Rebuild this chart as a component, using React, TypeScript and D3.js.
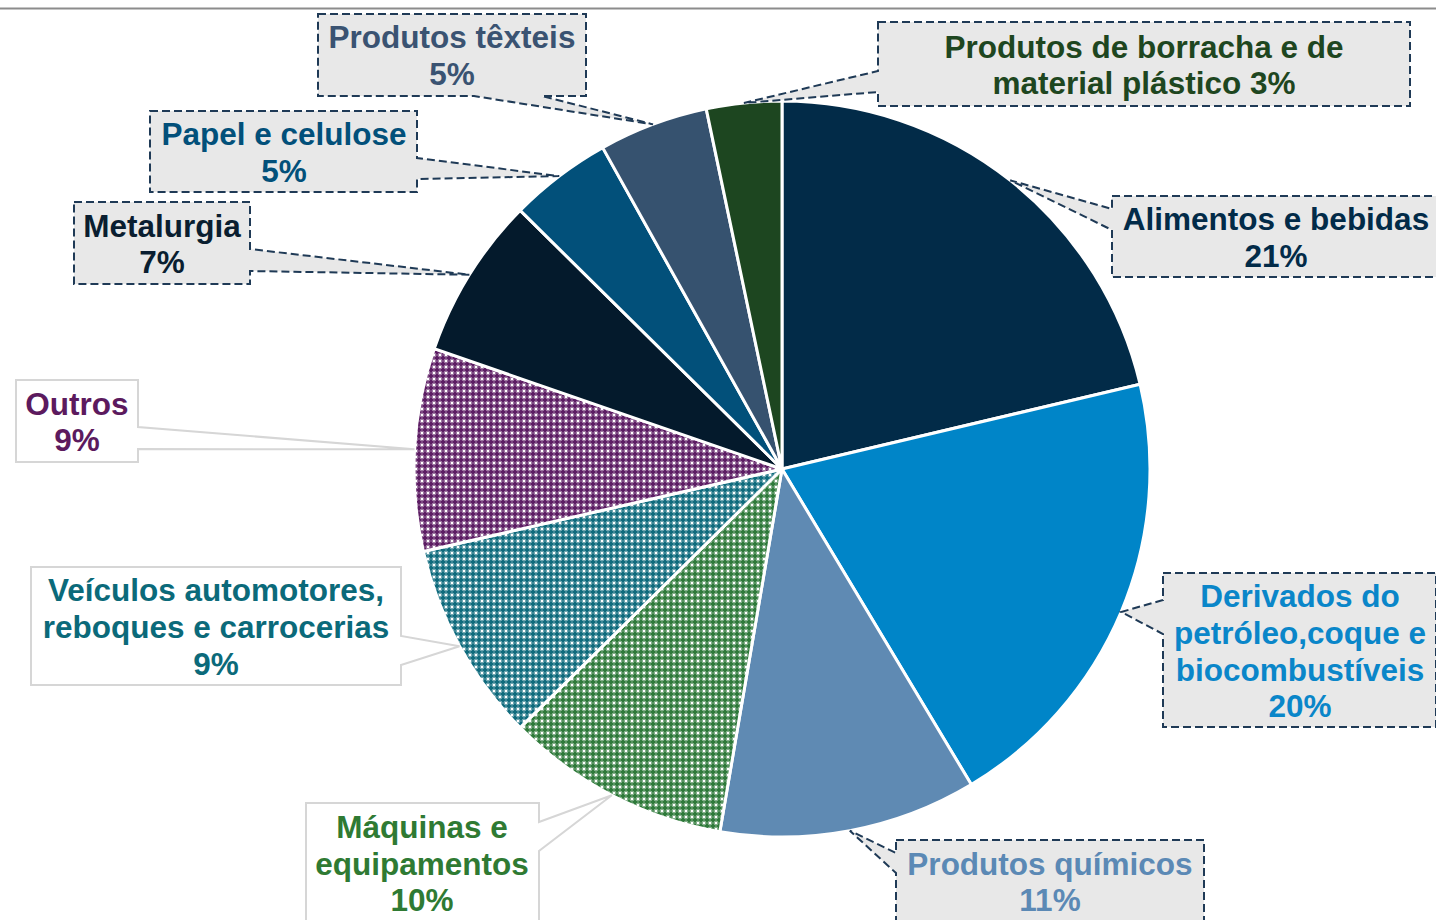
import React from "react";
import * as d3 from "d3";

// ---------- data ----------
const categories = [
  "Alimentos e bebidas",
  "Derivados do petróleo,coque e biocombustíveis",
  "Produtos químicos",
  "Máquinas e equipamentos",
  "Veículos automotores, reboques e carrocerias",
  "Outros",
  "Metalurgia",
  "Papel e celulose",
  "Produtos têxteis",
  "Produtos de borracha e de material plástico",
];
const shares = [21.3, 20.1, 11.3, 9.9, 8.8, 8.9, 7.1, 4.5, 4.8, 3.3];
const labelLines = [
  ["Alimentos e bebidas", "21%"],
  ["Derivados do", "petróleo,coque e", "biocombustíveis", "20%"],
  ["Produtos químicos", "11%"],
  ["Máquinas e", "equipamentos", "10%"],
  ["Veículos automotores,", "reboques e carrocerias", "9%"],
  ["Outros", "9%"],
  ["Metalurgia", "7%"],
  ["Papel e celulose", "5%"],
  ["Produtos têxteis", "5%"],
  ["Produtos de borracha e de", "material plástico 3%"],
];

// ---------- styles ----------
const sliceColors = [
  "#022b48", "#0085c8", "#5f8ab3", "#2e7a3a", "#0f6b7d",
  "#5d1d64", "#041a2c", "#02507a", "#36526f", "#1d4620",
];
const patterned = [false, false, false, true, true, true, false, false, false, false];
const textColors = [
  "#022b48", "#0a86c9", "#5b89b5", "#2f7a33", "#0b6a7a",
  "#5c1a5e", "#0a1e30", "#02507a", "#3a5372", "#1e4620",
];

type Layout = {
  x0: number; x1: number; y0: number; y1: number;
  side: "left" | "right" | "bottom";
  a1: number; a2: number;
  dashed: boolean;
  cx: number;
  lines: number[];
};

const layout: Layout[] = [
  { x0: 1112, x1: 1442, y0: 196, y1: 277, side: "left", a1: 209, a2: 230, dashed: true, cx: 1276, lines: [219, 256] },
  { x0: 1163, x1: 1436, y0: 573, y1: 727, side: "left", a1: 600, a2: 634, dashed: true, cx: 1300, lines: [596, 633, 670, 706] },
  { x0: 896, x1: 1204, y0: 840, y1: 940, side: "left", a1: 853, a2: 873, dashed: true, cx: 1050, lines: [864, 900] },
  { x0: 306, x1: 539, y0: 803, y1: 940, side: "right", a1: 822, a2: 851, dashed: false, cx: 422, lines: [827, 864, 900] },
  { x0: 31, x1: 401, y0: 567, y1: 685, side: "right", a1: 636, a2: 665, dashed: false, cx: 216, lines: [590, 627, 664] },
  { x0: 16, x1: 138, y0: 380, y1: 462, side: "right", a1: 427, a2: 449, dashed: false, cx: 77, lines: [404, 440] },
  { x0: 74, x1: 250, y0: 202, y1: 284, side: "right", a1: 249, a2: 271, dashed: true, cx: 162, lines: [226, 262] },
  { x0: 150, x1: 417, y0: 111, y1: 192, side: "right", a1: 158, a2: 179, dashed: true, cx: 284, lines: [134, 171] },
  { x0: 318, x1: 586, y0: 14, y1: 96, side: "bottom", a1: 474, a2: 542, dashed: true, cx: 452, lines: [37, 74] },
  { x0: 878, x1: 1410, y0: 22, y1: 106, side: "left", a1: 71, a2: 92, dashed: true, cx: 1144, lines: [47, 83] },
];

const W = 1436;
const H = 920;
const CX = 782;
const CY = 469;
const R = 368;
const FS = 31.5;

function calloutPath(l: Layout, tx: number, ty: number): string {
  const { x0, x1, y0, y1, a1, a2 } = l;
  if (l.side === "left") {
    return `M${x0},${y0}L${x1},${y0}L${x1},${y1}L${x0},${y1}L${x0},${a2}L${tx},${ty}L${x0},${a1}Z`;
  }
  if (l.side === "right") {
    return `M${x0},${y0}L${x1},${y0}L${x1},${a1}L${tx},${ty}L${x1},${a2}L${x1},${y1}L${x0},${y1}Z`;
  }
  return `M${x0},${y0}L${x1},${y0}L${x1},${y1}L${a2},${y1}L${tx},${ty}L${a1},${y1}L${x0},${y1}Z`;
}

export default function App() {
  const pie = d3.pie<number>().sort(null).value((d) => d).startAngle(0).endAngle(2 * Math.PI);
  const arcs = pie(shares);
  const arcGen = d3.arc<d3.PieArcDatum<number>>().innerRadius(0).outerRadius(R);
  const edgeGen = d3.arc<d3.PieArcDatum<number>>().innerRadius(R).outerRadius(R);

  return (
    <svg
      width={W}
      height={H}
      style={{ position: "absolute", left: 0, top: 0, background: "#fff" }}
      fontFamily="'Liberation Sans', Arial, sans-serif"
    >
      <defs>
        {sliceColors.map((c, i) =>
          patterned[i] ? (
            <pattern key={i} id={`pat${i}`} width={6} height={6} patternUnits="userSpaceOnUse">
              <rect x={0} y={0} width={6} height={6} fill="#fff" />
              <rect x={0} y={0} width={6} height={6} fill={c} opacity={0.6} />
              <rect x={2} y={0.5} width={2} height={5} fill={c} />
              <rect x={0.5} y={2} width={5} height={2} fill={c} />
              <rect x={0} y={0} width={1} height={1} fill="#fff" />
              <rect x={5} y={0} width={1} height={1} fill="#fff" />
              <rect x={0} y={5} width={1} height={1} fill="#fff" />
              <rect x={5} y={5} width={1} height={1} fill="#fff" />
            </pattern>
          ) : null
        )}
      </defs>
      <line x1={0} x2={W} y1={8.5} y2={8.5} stroke="#8c8c8c" strokeWidth={2} />
      <g transform={`translate(${CX},${CY})`}>
        {arcs.map((a, i) => (
          <path
            key={categories[i]}
            d={arcGen(a) || ""}
            fill={patterned[i] ? `url(#pat${i})` : sliceColors[i]}
            stroke="#fff"
            strokeWidth={3}
            strokeLinejoin="round"
          />
        ))}
      </g>
      {arcs.map((a, i) => {
        const [ex, ey] = edgeGen.centroid(a);
        const tx = CX + ex;
        const ty = CY + ey;
        const l = layout[i];
        return (
          <g key={`lbl${i}`}>
            <path
              d={calloutPath(l, tx, ty)}
              fill={l.dashed ? "#e8e8e8" : "#ffffff"}
              stroke={l.dashed ? "#1f3a56" : "#d6d6d6"}
              strokeWidth={2}
              strokeDasharray={l.dashed ? "8 4" : undefined}
            />
            {labelLines[i].map((t, j) => (
              <text
                key={j}
                x={l.cx}
                y={l.lines[j] + FS * 0.36}
                textAnchor="middle"
                fontSize={FS}
                fontWeight="bold"
                fill={textColors[i]}
              >
                {t}
              </text>
            ))}
          </g>
        );
      })}
    </svg>
  );
}
